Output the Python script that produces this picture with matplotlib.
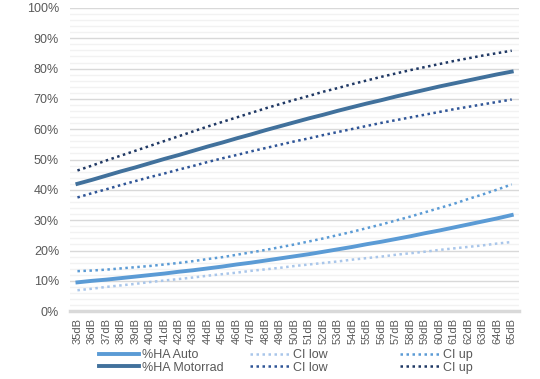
import matplotlib.pyplot as plt
from matplotlib.ticker import MultipleLocator, PercentFormatter

# ── Datos ─────────────────────────────────────────────────
categorias = [f"{db}dB" for db in range(35, 66)]

ha_auto = [9.5, 10.0, 10.4, 10.9, 11.4, 11.9, 12.4, 13.0, 13.5, 14.1,
           14.7, 15.4, 16.0, 16.7, 17.4, 18.1, 18.8, 19.6, 20.4, 21.2,
           22.1, 22.9, 23.8, 24.7, 25.7, 26.6, 27.6, 28.6, 29.6, 30.6, 31.7]
auto_low = [6.9, 7.4, 8.0, 8.5, 9.0, 9.6, 10.1, 10.6, 11.1, 11.7,
            12.2, 12.7, 13.3, 13.8, 14.3, 14.9, 15.4, 15.9, 16.4, 17.0,
            17.5, 18.0, 18.6, 19.1, 19.6, 20.2, 20.7, 21.2, 21.7, 22.3, 22.8]
auto_up = [13.2, 13.4, 13.7, 14.1, 14.5, 14.9, 15.4, 15.9, 16.5, 17.2,
           17.8, 18.6, 19.4, 20.2, 21.1, 22.0, 23.0, 24.0, 25.1, 26.2,
           27.4, 28.6, 29.9, 31.2, 32.6, 34.0, 35.4, 37.0, 38.5, 40.1, 41.8]

ha_motor = [42.0, 43.3, 44.7, 46.1, 47.4, 48.8, 50.2, 51.5, 52.9, 54.3,
            55.6, 57.0, 58.3, 59.7, 61.0, 62.3, 63.6, 64.8, 66.1, 67.3,
            68.5, 69.6, 70.8, 71.9, 73.0, 74.1, 75.1, 76.1, 77.1, 78.1, 79.0]
motor_low = [37.5, 38.9, 40.2, 41.6, 42.9, 44.2, 45.4, 46.7, 47.9, 49.2,
             50.4, 51.5, 52.7, 53.8, 54.9, 56.0, 57.0, 58.1, 59.1, 60.1,
             61.1, 62.1, 63.0, 63.9, 64.8, 65.7, 66.6, 67.4, 68.2, 69.0, 69.8]
motor_up = [46.4, 48.0, 49.7, 51.3, 52.9, 54.5, 56.1, 57.7, 59.3, 60.9,
            62.4, 63.9, 65.4, 66.9, 68.3, 69.7, 71.0, 72.4, 73.6, 74.9,
            76.1, 77.3, 78.4, 79.5, 80.5, 81.5, 82.5, 83.4, 84.3, 85.1, 85.9]

# ── Gráfica ───────────────────────────────────────────────
plt.rcParams['font.family'] = ['Liberation Sans', 'DejaVu Sans']
texto = '#595959'
punteado = (0, (1, 1.4))

fig = plt.figure(figsize=(5.4, 3.79), dpi=100)
ax = fig.add_axes([0.13, 0.179, 0.831, 0.8])
x = range(len(categorias))

l1, = ax.plot(x, ha_auto, color='#5B9BD5', lw=2.8, label='%HA Auto')
l2, = ax.plot(x, ha_motor, color='#41719C', lw=2.8, label='%HA Motorrad')
l3, = ax.plot(x, auto_low, color='#A9C6EA', lw=1.8, ls=punteado, label='CI low')
l4, = ax.plot(x, motor_low, color='#2F5597', lw=1.8, ls=punteado, label='CI low')
l5, = ax.plot(x, auto_up, color='#5B9BD5', lw=1.8, ls=punteado, label='CI up')
l6, = ax.plot(x, motor_up, color='#1F3864', lw=1.8, ls=punteado, label='CI up')

ax.set_xlim(-0.5, len(categorias) - 0.5)
ax.set_ylim(0, 100)
ax.yaxis.set_major_locator(MultipleLocator(10))
ax.yaxis.set_minor_locator(MultipleLocator(2))
ax.yaxis.set_major_formatter(PercentFormatter(decimals=0))
ax.grid(axis='y', which='major', color='#D9D9D9', lw=1)
ax.grid(axis='y', which='minor', color='#F2F2F2', lw=1)
ax.set_axisbelow(True)

ax.set_xticks(list(x))
ax.set_xticklabels(categorias, rotation=90, fontsize=8, color=texto)
ax.tick_params(axis='y', labelsize=9, labelcolor=texto, length=0, pad=8)
ax.tick_params(axis='y', which='minor', length=0)
ax.tick_params(axis='x', length=0, pad=5)

for lado in ['top', 'right', 'left']:
    ax.spines[lado].set_visible(False)
ax.spines['bottom'].set_color('#D9D9D9')
ax.spines['bottom'].set_linewidth(2.5)

# Leyenda: tres columnas de igual ancho (como Excel)
columnas = [([l1, l2], 99), ([l3, l4], 250), ([l5, l6], 400)]
for handles, x0 in columnas:
    fig.legend(handles=handles, frameon=False, loc='upper left',
               bbox_to_anchor=(x0 / 540, 1 - 349 / 379),
               fontsize=9, labelcolor=texto, handlelength=3.2,
               handletextpad=0.25, labelspacing=0.05,
               borderpad=0, borderaxespad=0)

plt.savefig('out.png', dpi=100)
